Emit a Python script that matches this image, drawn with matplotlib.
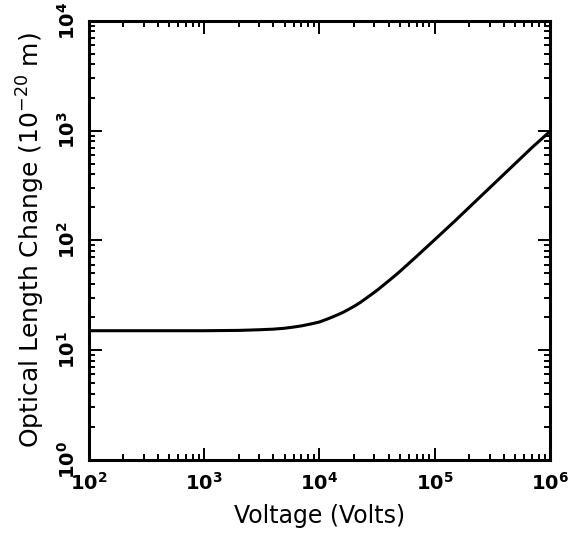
#!/usr/bin/env python3
"""Optical length change vs applied voltage (log-log)."""
import matplotlib

matplotlib.use("Agg", force=True)
import matplotlib.pyplot as plt
from matplotlib.ticker import LogLocator, NullFormatter, FixedLocator, FixedFormatter

# values
voltage = [1e2, 3e2, 1e3, 2e3, 3e3, 4e3, 5e3, 6e3, 7e3, 8.5e3, 1e4, 1.15e4, 1.3e4,
           1.45e4, 1.6e4, 1.8e4, 2e4, 2.25e4, 2.5e4, 2.8e4, 3.2e4, 3.6e4, 4e4,
           4.5e4, 5e4, 6e4, 7e4, 8e4, 1e5, 1.5e5, 2e5, 3e5, 5e5, 7e5, 1e6]
length_change = [15, 15, 15, 15.1, 15.3, 15.5, 15.8, 16.2, 16.6, 17.3, 18, 19, 20,
                 21, 22, 23.5, 25, 27, 29.2, 31.8, 35.3, 39, 42.7,
                 47.3, 52, 61.8, 71.5, 81.4, 101, 150, 200, 300, 500, 700, 980]

x_ticks = [1e2, 1e3, 1e4, 1e5, 1e6]
x_ticklabels = [r"$\mathbf{10^{2}}$", r"$\mathbf{10^{3}}$", r"$\mathbf{10^{4}}$",
                r"$\mathbf{10^{5}}$", r"$\mathbf{10^{6}}$"]
y_ticks = [1e0, 1e1, 1e2, 1e3, 1e4]
y_ticklabels = [r"$\mathbf{10^{0}}$", r"$\mathbf{10^{1}}$", r"$\mathbf{10^{2}}$",
                r"$\mathbf{10^{3}}$", r"$\mathbf{10^{4}}$"]

fig = plt.figure(figsize=(5.8, 5.34), dpi=100)
ax = fig.add_axes([0.153, 0.139, 0.795, 0.822])

ax.plot(voltage, length_change, color="black", lw=2.2, solid_capstyle="butt",
        solid_joinstyle="round")
ax.set_xscale("log")
ax.set_yscale("log")
ax.set_xlim(1e2, 1e6)
ax.set_ylim(1e0, 1e4)

ax.xaxis.set_major_locator(FixedLocator(x_ticks))
ax.xaxis.set_major_formatter(FixedFormatter(x_ticklabels))
ax.yaxis.set_major_locator(FixedLocator(y_ticks))
ax.yaxis.set_major_formatter(FixedFormatter(y_ticklabels))
for axis in (ax.xaxis, ax.yaxis):
    axis.set_minor_locator(LogLocator(base=10, subs=range(2, 10), numticks=20))
    axis.set_minor_formatter(NullFormatter())

ax.tick_params(which="both", direction="in", top=True, right=True, width=1.4)
ax.tick_params(axis="x", which="major", length=9, labelsize=14, pad=9)
ax.tick_params(axis="y", which="major", length=9, labelsize=14, pad=7)
ax.tick_params(which="minor", length=4)
for lbl in ax.get_yticklabels():
    lbl.set_rotation(90)
    lbl.set_va("center")
for sp in ax.spines.values():
    sp.set_linewidth(2.2)

ax.set_xlabel("Voltage (Volts)", fontsize=17, labelpad=7)
ax.set_ylabel(r"Optical Length Change (10$^{-20}$ m)", fontsize=18, labelpad=7)

fig.savefig("out.png", dpi=100)
